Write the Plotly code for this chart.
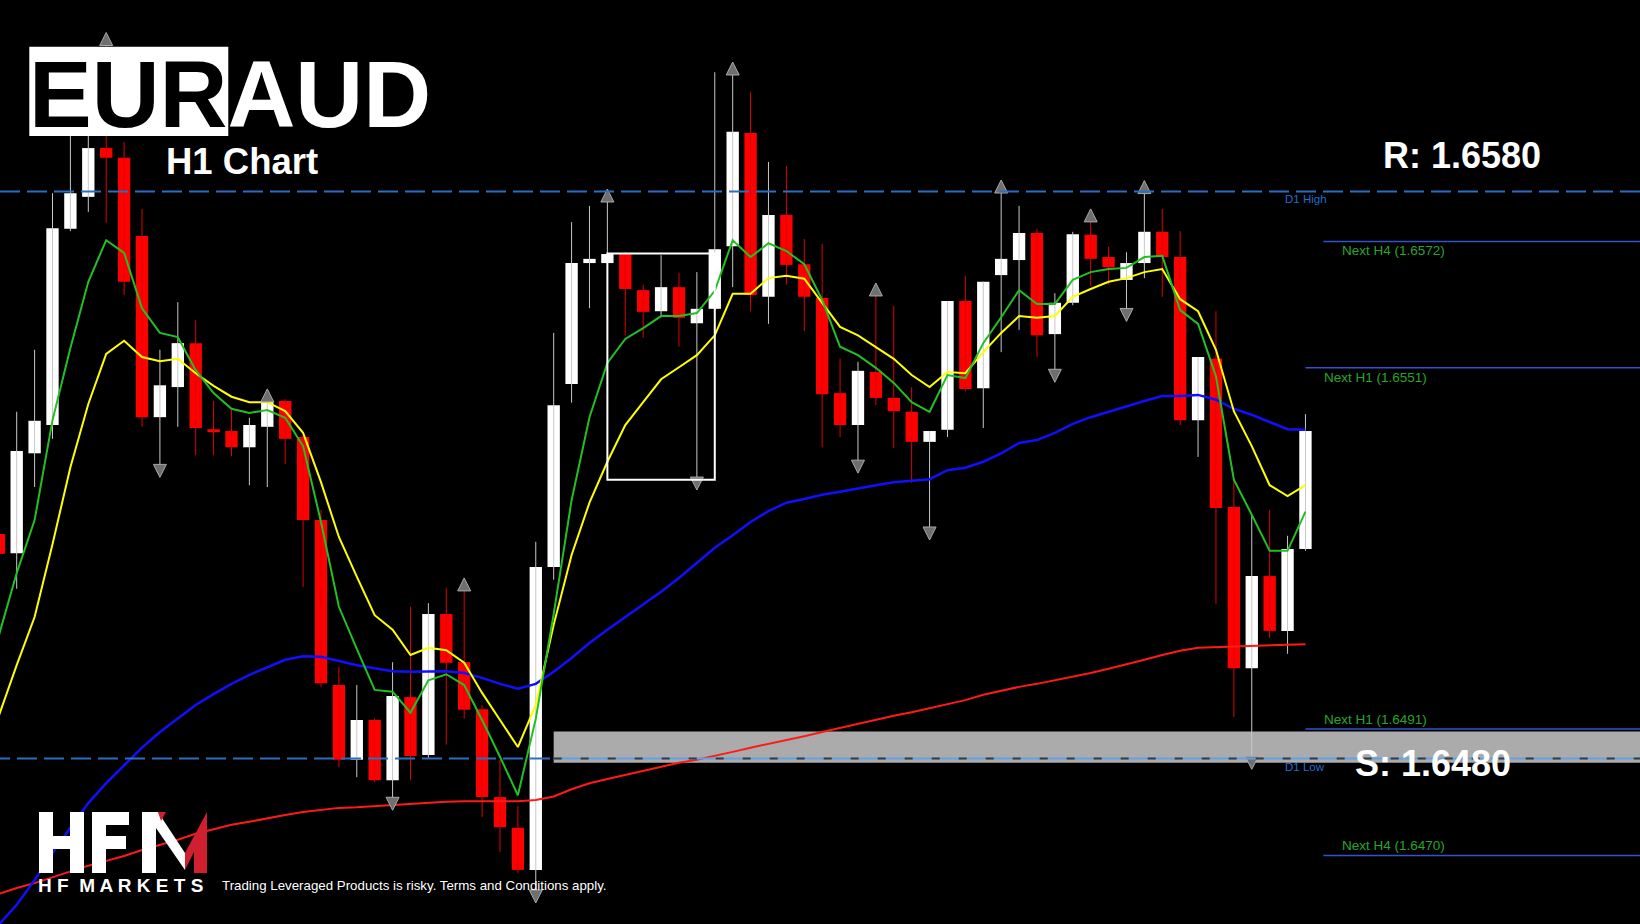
import plotly.graph_objects as go

W, H = 1640, 924

# ---------------- data ----------------
candle_open = [1.65234, 1.65202, 1.65368, 1.65415, 1.65741, 1.65794, 1.65875, 1.65859, 1.65729, 1.65428,
               1.65478, 1.65551, 1.65408, 1.65405, 1.65378, 1.65412, 1.65455, 1.65395, 1.65257, 1.64983,
               1.64859, 1.64925, 1.64825, 1.64963, 1.64867, 1.65101, 1.65021, 1.64943, 1.64797, 1.64746,
               1.64676, 1.65179, 1.65483, 1.65684, 1.65684, 1.65699, 1.65639, 1.65604, 1.65644, 1.65584,
               1.65608, 1.65712, 1.65900, 1.65628, 1.65764, 1.65682, 1.65626, 1.65468, 1.65415, 1.65503,
               1.65460, 1.65437, 1.65387, 1.65407, 1.65621, 1.65476, 1.65664, 1.65689, 1.65734, 1.65566,
               1.65618, 1.65731, 1.65694, 1.65656, 1.65684, 1.65736, 1.65694, 1.65423, 1.65525, 1.65279,
               1.65011, 1.65164, 1.65073, 1.65209]
candle_high = [1.65290, 1.65437, 1.65540, 1.65800, 1.65913, 1.65905, 1.66050, 1.65885, 1.65774, 1.65540,
               1.65619, 1.65589, 1.65455, 1.65440, 1.65427, 1.65458, 1.65458, 1.65397, 1.65274, 1.65013,
               1.64983, 1.64928, 1.65021, 1.65113, 1.65119, 1.65144, 1.65144, 1.64950, 1.64859, 1.64782,
               1.65221, 1.65568, 1.65752, 1.65779, 1.65790, 1.65702, 1.65648, 1.65697, 1.65668, 1.65669,
               1.66001, 1.66001, 1.65968, 1.65852, 1.65845, 1.65724, 1.65716, 1.65525, 1.65520, 1.65634,
               1.65613, 1.65478, 1.65405, 1.65621, 1.65663, 1.65653, 1.65805, 1.65779, 1.65741, 1.65634,
               1.65736, 1.65757, 1.65711, 1.65702, 1.65804, 1.65774, 1.65737, 1.65528, 1.65604, 1.65324,
               1.65266, 1.65274, 1.65231, 1.65433]
candle_low = [1.65174, 1.65143, 1.65312, 1.65392, 1.65737, 1.65769, 1.65751, 1.65631, 1.65412, 1.65345,
              1.65412, 1.65365, 1.65365, 1.65363, 1.65315, 1.65312, 1.65350, 1.65146, 1.64980, 1.64847,
              1.64830, 1.64822, 1.64792, 1.64825, 1.64862, 1.64884, 1.64927, 1.64764, 1.64706, 1.64671,
              1.64638, 1.65158, 1.65452, 1.65609, 1.65681, 1.65564, 1.65560, 1.65594, 1.65545, 1.65324,
              1.65604, 1.65644, 1.65604, 1.65583, 1.65648, 1.65571, 1.65378, 1.65395, 1.65352, 1.65448,
              1.65377, 1.65319, 1.65241, 1.65395, 1.65471, 1.65410, 1.65536, 1.65573, 1.65528, 1.65503,
              1.65614, 1.65646, 1.65648, 1.65604, 1.65659, 1.65628, 1.65415, 1.65362, 1.65118, 1.64930,
              1.64860, 1.65061, 1.65035, 1.65206]
candle_close = [1.65201, 1.65372, 1.65422, 1.65742, 1.65800, 1.65875, 1.65859, 1.65653, 1.65428, 1.65481,
                1.65551, 1.65410, 1.65403, 1.65378, 1.65415, 1.65455, 1.65392, 1.65257, 1.64986, 1.64859,
                1.64925, 1.64825, 1.64965, 1.64865, 1.65101, 1.65020, 1.64942, 1.64797, 1.64747, 1.64676,
                1.65179, 1.65448, 1.65684, 1.65691, 1.65699, 1.65641, 1.65603, 1.65644, 1.65593, 1.65608,
                1.65707, 1.65902, 1.65631, 1.65764, 1.65681, 1.65628, 1.65466, 1.65415, 1.65505, 1.65460,
                1.65438, 1.65387, 1.65405, 1.65621, 1.65475, 1.65653, 1.65691, 1.65734, 1.65564, 1.65618,
                1.65732, 1.65691, 1.65677, 1.65684, 1.65736, 1.65694, 1.65423, 1.65528, 1.65277, 1.65011,
                1.65164, 1.65073, 1.65209, 1.65405]

ma_green = [1.65065, 1.65169, 1.65257, 1.65423, 1.65543, 1.65653, 1.65722, 1.65701, 1.65609, 1.65568,
            1.65561, 1.65506, 1.65468, 1.65442, 1.65435, 1.65440, 1.65427, 1.65380, 1.65254, 1.65113,
            1.65043, 1.64975, 1.64972, 1.64937, 1.64991, 1.65001, 1.64983, 1.64925, 1.64864, 1.64800,
            1.64927, 1.65101, 1.65290, 1.65428, 1.65518, 1.65558, 1.65576, 1.65596, 1.65596, 1.65601,
            1.65638, 1.65722, 1.65694, 1.65717, 1.65704, 1.65682, 1.65623, 1.65545, 1.65531, 1.65510,
            1.65485, 1.65453, 1.65437, 1.65498, 1.65493, 1.65551, 1.65594, 1.65639, 1.65616, 1.65616,
            1.65656, 1.65669, 1.65674, 1.65676, 1.65694, 1.65696, 1.65606, 1.65583, 1.65496, 1.65324,
            1.65266, 1.65206, 1.65206, 1.65271]
ma_yellow = [1.64932, 1.65016, 1.65096, 1.65217, 1.65345, 1.65450, 1.65533, 1.65555, 1.65528, 1.65521,
             1.65525, 1.65501, 1.65480, 1.65462, 1.65453, 1.65453, 1.65438, 1.65402, 1.65320, 1.65229,
             1.65163, 1.65099, 1.65075, 1.65033, 1.65045, 1.65041, 1.65020, 1.64970, 1.64925, 1.64880,
             1.64950, 1.65083, 1.65199, 1.65286, 1.65354, 1.65415, 1.65453, 1.65491, 1.65511, 1.65531,
             1.65564, 1.65633, 1.65633, 1.65659, 1.65663, 1.65658, 1.65618, 1.65578, 1.65564, 1.65545,
             1.65525, 1.65498, 1.65478, 1.65503, 1.65501, 1.65536, 1.65568, 1.65596, 1.65593, 1.65596,
             1.65628, 1.65641, 1.65653, 1.65659, 1.65669, 1.65674, 1.65624, 1.65604, 1.65540, 1.65438,
             1.65380, 1.65315, 1.65297, 1.65315]
ma_blue = [1.64585, 1.64618, 1.64659, 1.64704, 1.64746, 1.64787, 1.64820, 1.64850, 1.64879, 1.64905,
           1.64928, 1.64950, 1.64968, 1.64985, 1.65000, 1.65013, 1.65025, 1.65031, 1.65030, 1.65023,
           1.65016, 1.65011, 1.65006, 1.65005, 1.65006, 1.65006, 1.65003, 1.64995, 1.64985, 1.64977,
           1.64985, 1.65005, 1.65028, 1.65053, 1.65075, 1.65096, 1.65118, 1.65138, 1.65161, 1.65186,
           1.65211, 1.65232, 1.65254, 1.65272, 1.65286, 1.65292, 1.65299, 1.65304, 1.65310, 1.65315,
           1.65320, 1.65322, 1.65325, 1.65340, 1.65344, 1.65354, 1.65368, 1.65385, 1.65390, 1.65402,
           1.65417, 1.65428, 1.65437, 1.65447, 1.65455, 1.65463, 1.65463, 1.65465, 1.65457, 1.65442,
           1.65432, 1.65420, 1.65408, 1.65407]
ma_red = [1.64636, 1.64646, 1.64654, 1.64664, 1.64673, 1.64683, 1.64691, 1.64699, 1.64709, 1.64717,
          1.64726, 1.64736, 1.64744, 1.64751, 1.64756, 1.64762, 1.64767, 1.64772, 1.64776, 1.64779,
          1.64780, 1.64782, 1.64784, 1.64786, 1.64787, 1.64789, 1.64790, 1.64790, 1.64790, 1.64790,
          1.64792, 1.64798, 1.64810, 1.64820, 1.64827, 1.64834, 1.64840, 1.64847, 1.64854, 1.64859,
          1.64865, 1.64872, 1.64879, 1.64885, 1.64892, 1.64898, 1.64905, 1.64912, 1.64918, 1.64925,
          1.64932, 1.64938, 1.64945, 1.64952, 1.64958, 1.64967, 1.64974, 1.64980, 1.64985, 1.64991,
          1.64996, 1.65003, 1.65010, 1.65017, 1.65025, 1.65033, 1.65040, 1.65045, 1.65046, 1.65047,
          1.65048, 1.65049, 1.65050, 1.65051]

fractal_up = [6, 15, 26, 34, 41, 49, 56, 61, 64]
fractal_down = [9, 22, 30, 39, 48, 52, 59, 63, 70]

d1_high = 1.65803
d1_low = 1.64861
zone_bottom, zone_top = 1.64854, 1.64906
zone_start = 31
box_x = [34, 40]
box_y = [1.65324, 1.65700]
upper_levels = [("Next H4 (1.6572)", 1.6572, 74), ("Next H1 (1.6551)", 1.6551, 73)]
lower_levels = [("Next H1 (1.6491)", 1.6491, 73), ("Next H4 (1.6470)", 1.6470, 74)]

pair_base, pair_quote = "EUR", "AUD"
chart_tf = "H1 Chart"
resistance_txt = "R: 1.6580"
support_txt = "S: 1.6480"
disclaimer = "Trading Leveraged Products is risky. Terms and Conditions apply."
brand_sub = "H F  M A R K E T S"

# ---------------- figure ----------------
FONT = "Liberation Sans, Arial, Helvetica, sans-serif"
n = len(candle_close)
idx = list(range(n))
bull = [i for i in idx if candle_close[i] >= candle_open[i]]
bear = [i for i in idx if candle_close[i] < candle_open[i]]
MIN_BODY = 0.00003

fig = go.Figure()


def wick_xy(ids):
    xs, ys = [], []
    for i in ids:
        xs += [i, i, None]
        ys += [candle_low[i], candle_high[i], None]
    return xs, ys


for ids, wcol in ((bull, "#c8c8c8"), (bear, "#e00000")):
    wx, wy = wick_xy(ids)
    fig.add_trace(go.Scatter(x=wx, y=wy, mode="lines", line=dict(color=wcol, width=1),
                             hoverinfo="skip", showlegend=False))


def body(ids):
    bases, hts = [], []
    for i in ids:
        lo = min(candle_open[i], candle_close[i])
        h = abs(candle_close[i] - candle_open[i])
        if h < MIN_BODY:
            lo -= (MIN_BODY - h) / 2
            h = MIN_BODY
        bases.append(lo)
        hts.append(h)
    return bases, hts


for ids, col in ((bull, "#ffffff"), (bear, "#ff0000")):
    b, h = body(ids)
    fig.add_trace(go.Bar(x=ids, y=h, base=b, width=0.69, marker=dict(color=col, line=dict(width=0)),
                         hoverinfo="skip", showlegend=False))

for ser, col, wd in ((ma_red, "#ff1a1a", 2), (ma_blue, "#1010ff", 2.5),
                     (ma_yellow, "#ffff00", 2), (ma_green, "#22c022", 2)):
    fig.add_trace(go.Scatter(x=idx, y=ser, mode="lines", line=dict(color=col, width=wd),
                             hoverinfo="skip", showlegend=False))

fig.add_trace(go.Scatter(x=fractal_up, y=[candle_high[i] + 0.00017 for i in fractal_up], mode="markers",
                         marker=dict(symbol="arrow-up", size=13, color="#6f6f6f",
                                     line=dict(width=1, color="#a8a8a8")),
                         hoverinfo="skip", showlegend=False))
fig.add_trace(go.Scatter(x=fractal_down, y=[candle_low[i] - 0.00017 for i in fractal_down], mode="markers",
                         marker=dict(symbol="arrow-down", size=13, color="#6f6f6f",
                                     line=dict(width=1, color="#a8a8a8")),
                         hoverinfo="skip", showlegend=False))

shapes = []
# support zone
shapes.append(dict(type="rect", xref="x", yref="y", x0=zone_start, x1=95, y0=zone_bottom, y1=zone_top,
                   fillcolor="#ababab", line=dict(width=0), layer="below"))
# D1 high / low
shapes.append(dict(type="line", xref="paper", yref="y", x0=0, x1=1, y0=d1_high, y1=d1_high,
                   line=dict(color="#2a6ec0", width=2, dash="20px,7px")))
shapes.append(dict(type="line", xref="x", yref="y", x0=-2, x1=zone_start, y0=d1_low, y1=d1_low,
                   line=dict(color="#2a6ec0", width=2, dash="20px,7px")))
shapes.append(dict(type="line", xref="x", yref="y", x0=zone_start, x1=95, y0=d1_low, y1=d1_low,
                   line=dict(color="#62a2e6", width=2)))
shapes.append(dict(type="line", xref="x", yref="y", x0=zone_start, x1=95, y0=d1_low, y1=d1_low,
                   line=dict(color="#3a3a3a", width=2, dash="8px,19px")))
# next-level lines
for _, lvl, x0 in upper_levels + lower_levels:
    shapes.append(dict(type="line", xref="x", yref="y", x0=x0, x1=95, y0=lvl, y1=lvl,
                       line=dict(color="#3352cc", width=1.5)))
# consolidation rectangle
shapes.append(dict(type="rect", xref="x", yref="y", x0=box_x[0], x1=box_x[1], y0=box_y[0], y1=box_y[1],
                   line=dict(color="#ffffff", width=2), fillcolor="rgba(0,0,0,0)"))
# title box
shapes.append(dict(type="rect", xref="paper", yref="paper", x0=29.3 / W, x1=228.3 / W,
                   y0=1 - 136 / H, y1=1 - 46.7 / H, fillcolor="#ffffff", line=dict(width=0), layer="above"))


def pth(pts):
    return "M " + " L ".join(f"{x / W:.5f},{1 - y / H:.5f}" for x, y in pts) + " Z"


white_parts = [
    # H
    [(39, 812), (53, 812), (53, 873), (39, 873)],
    [(70, 812), (84, 812), (84, 873), (70, 873)],
    [(53, 836), (70, 836), (70, 849), (53, 849)],
    # F
    [(92, 812), (106, 812), (106, 873), (92, 873)],
    [(106, 812), (129, 812), (129, 825), (106, 825)],
    [(106, 836), (126, 836), (126, 849), (106, 849)],
    # M (white half)
    [(142, 812), (158, 812), (185, 853), (185, 870), (156, 828), (156, 873), (142, 873)],
]
red_parts = [
    [(185, 853), (207, 812), (207, 873), (194, 873), (194, 852), (185, 870)],
    [(158, 812), (166, 812), (161, 821)],
]
for poly in white_parts:
    shapes.append(dict(type="path", xref="paper", yref="paper", path=pth(poly),
                       fillcolor="#ffffff", line=dict(width=0), layer="above"))
for poly in red_parts:
    shapes.append(dict(type="path", xref="paper", yref="paper", path=pth(poly),
                       fillcolor="#d0202f", line=dict(width=0), layer="above"))

ann = []


def txt(text, xp, yp, size, color, xanchor="left", bold=False):
    t = f"<b>{text}</b>" if bold else text
    ann.append(dict(text=t, xref="paper", yref="paper", x=xp / W, y=1 - yp / H, xanchor=xanchor,
                    yanchor="middle", showarrow=False, font=dict(family=FONT, size=size, color=color)))


txt(f"<span style='color:#000000'>{pair_base}</span>{pair_quote}", 27, 95, 94, "#ffffff", bold=True)
txt(chart_tf, 164, 161, 36.5, "#ffffff", bold=True)
txt(resistance_txt, 1462, 156, 36, "#ffffff", xanchor="center", bold=True)
txt(support_txt, 1433, 763, 36, "#ffffff", xanchor="center", bold=True)
txt(brand_sub, 36, 885, 19, "#ffffff", bold=True)
txt(disclaimer, 220, 885, 13.3, "#ffffff")

for label, lvl, x0 in upper_levels:
    ann.append(dict(text=label, xref="x", yref="y", x=x0 + 0.95, y=lvl, xanchor="left", yanchor="top",
                    showarrow=False, font=dict(family=FONT, size=13.5, color="#2aa52a")))
for label, lvl, x0 in lower_levels:
    ann.append(dict(text=label, xref="x", yref="y", x=x0 + 0.95, y=lvl, xanchor="left", yanchor="bottom",
                    showarrow=False, font=dict(family=FONT, size=13.5, color="#2aa52a")))
ann.append(dict(text="D1 High", xref="x", yref="y", x=71.75, y=d1_high, xanchor="left", yanchor="top",
                showarrow=False, font=dict(family=FONT, size=11.5, color="#1f6fd0")))
ann.append(dict(text="D1 Low", xref="x", yref="y", x=71.75, y=d1_low, xanchor="left", yanchor="top",
                showarrow=False, font=dict(family=FONT, size=11.5, color="#1f6fd0")))

fig.update_layout(
    width=W, height=H, margin=dict(l=0, r=0, t=0, b=0),
    paper_bgcolor="#000000", plot_bgcolor="#000000",
    barmode="overlay", showlegend=False,
    xaxis=dict(range=[0.067, 91.69], visible=False, fixedrange=True),
    yaxis=dict(range=[1.645861, 1.66121], visible=False, fixedrange=True),
    shapes=shapes, annotations=ann,
)

fig.write_html(
    "out.html",
    config={"displayModeBar": False, "staticPlot": True},
    post_script="document.body.style.margin='0';document.body.style.padding='0';"
                "document.documentElement.style.overflow='hidden';document.body.style.background='#000';",
)
